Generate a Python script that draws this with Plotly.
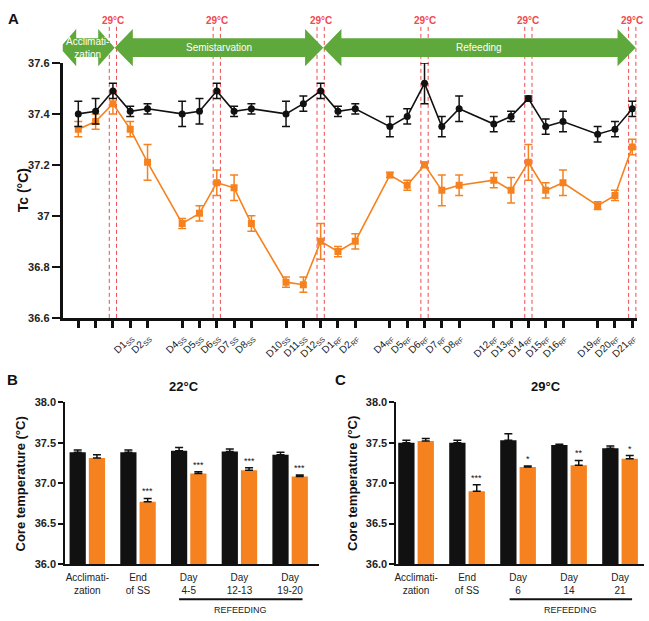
import plotly.graph_objects as go

# ---------------- Panel A data ----------------
day_pos = [0, 1, 2, 3, 4, 6, 7, 8, 9, 10, 12, 13, 14, 15, 16, 18, 19, 20, 21, 22,
           24, 25, 26, 27, 28, 30, 31, 32]
day_labels = ["", "", "",
              "D1<sub>SS</sub>", "D2<sub>SS</sub>", "D4<sub>SS</sub>", "D5<sub>SS</sub>",
              "D6<sub>SS</sub>", "D7<sub>SS</sub>", "D8<sub>SS</sub>", "D10<sub>SS</sub>",
              "D11<sub>SS</sub>", "D12<sub>SS</sub>", "D1<sub>RF</sub>", "D2<sub>RF</sub>",
              "D4<sub>RF</sub>", "D5<sub>RF</sub>", "D6<sub>RF</sub>", "D7<sub>RF</sub>",
              "D8<sub>RF</sub>", "D12<sub>RF</sub>", "D13<sub>RF</sub>", "D14<sub>RF</sub>",
              "D15<sub>RF</sub>", "D16<sub>RF</sub>", "D19<sub>RF</sub>", "D20<sub>RF</sub>",
              "D21<sub>RF</sub>"]
ctrl_tc = [37.40, 37.41, 37.49, 37.41, 37.42, 37.40, 37.41, 37.49, 37.41, 37.42,
           37.40, 37.44, 37.49, 37.41, 37.42, 37.35, 37.39, 37.52, 37.35, 37.42,
           37.36, 37.39, 37.46, 37.35, 37.37, 37.32, 37.34, 37.42]
ctrl_err = [0.05, 0.05, 0.03, 0.02, 0.02, 0.05, 0.05, 0.03, 0.02, 0.02,
            0.05, 0.03, 0.03, 0.02, 0.02, 0.04, 0.03, 0.08, 0.04, 0.05,
            0.03, 0.02, 0.01, 0.03, 0.04, 0.03, 0.03, 0.03]
ss_tc = [37.34, 37.37, 37.44, 37.34, 37.21, 36.97, 37.01, 37.13, 37.11, 36.97,
         36.74, 36.73, 36.90, 36.86, 36.90, 37.16, 37.12, 37.20, 37.10, 37.12,
         37.14, 37.10, 37.21, 37.10, 37.13, 37.04, 37.08, 37.27]
ss_err = [0.03, 0.03, 0.04, 0.03, 0.07, 0.02, 0.03, 0.05, 0.05, 0.03,
          0.02, 0.03, 0.07, 0.02, 0.03, 0.01, 0.02, 0.01, 0.06, 0.04,
          0.03, 0.05, 0.07, 0.03, 0.05, 0.015, 0.02, 0.03]
warm_days = [2, 8, 14, 20, 26, 32]
a_yticks = [36.6, 36.8, 37.0, 37.2, 37.4, 37.6]
a_yticktext = ["36.6", "36.8", "37", "37.2", "37.4", "37.6"]
phases = [("Acclimati-<br>zation", -1.07, 2.1, 0.95),
          ("Semistarvation", 2.1, 14.15, 1.05),
          ("Refeeding", 14.15, 32.2, 1.05)]

# ---------------- Panel B / C data ----------------
groups_b = ["Acclimati-<br>zation", "End<br>of SS", "Day<br>4-5", "Day<br>12-13", "Day<br>19-20"]
b_ctrl = [37.38, 37.38, 37.40, 37.39, 37.35]
b_ctrl_err = [0.03, 0.03, 0.04, 0.03, 0.03]
b_ss = [37.31, 36.77, 37.12, 37.16, 37.08]
b_ss_err = [0.04, 0.04, 0.02, 0.03, 0.02]
b_stars = ["", "***", "***", "***", "***"]

groups_c = ["Acclimati-<br>zation", "End<br>of SS", "Day<br>6", "Day<br>14", "Day<br>21"]
c_ctrl = [37.50, 37.50, 37.53, 37.47, 37.43]
c_ctrl_err = [0.03, 0.03, 0.08, 0.01, 0.03]
c_ss = [37.52, 36.90, 37.20, 37.22, 37.30]
c_ss_err = [0.03, 0.08, 0.01, 0.06, 0.04]
c_stars = ["", "***", "*", "**", "*"]
bar_yticks = [36.0, 36.5, 37.0, 37.5, 38.0]

BLACK = "#111111"
ORANGE = "#f5821f"
GREEN = "#5ea83c"
RED = "#ef4a4f"
FONT = "Liberation Sans, Arial, sans-serif"

fig = go.Figure()

# Panel A traces
fig.add_trace(go.Scatter(
    x=day_pos, y=ss_tc, mode="lines+markers", xaxis="x", yaxis="y",
    line=dict(color=ORANGE, width=1.6),
    marker=dict(symbol="square", size=7, color=ORANGE),
    error_y=dict(type="data", array=ss_err, color=ORANGE, thickness=1.5, width=4),
    showlegend=False))
fig.add_trace(go.Scatter(
    x=day_pos, y=ctrl_tc, mode="lines+markers", xaxis="x", yaxis="y",
    line=dict(color=BLACK, width=1.6),
    marker=dict(symbol="circle", size=7, color=BLACK),
    error_y=dict(type="data", array=ctrl_err, color=BLACK, thickness=1.5, width=4),
    showlegend=False))

# Panel B & C bars
def add_bars(xa, ya, ctrl, cerr, ss, serr):
    n = len(ctrl)
    fig.add_trace(go.Bar(
        x=[i - 0.19 for i in range(n)], y=ctrl, width=0.32, base=0,
        xaxis=xa, yaxis=ya, marker=dict(color=BLACK, line=dict(width=0)),
        error_y=dict(type="data", symmetric=False, array=cerr, arrayminus=[0] * n,
                     color=BLACK, thickness=1.5, width=4),
        showlegend=False))
    fig.add_trace(go.Bar(
        x=[i + 0.19 for i in range(n)], y=ss, width=0.32, base=0,
        xaxis=xa, yaxis=ya, marker=dict(color=ORANGE, line=dict(width=0)),
        error_y=dict(type="data", symmetric=False, array=serr, arrayminus=[0] * n,
                     color=BLACK, thickness=1.5, width=4),
        showlegend=False))

add_bars("x2", "y2", b_ctrl, b_ctrl_err, b_ss, b_ss_err)
add_bars("x3", "y3", c_ctrl, c_ctrl_err, c_ss, c_ss_err)

shapes = []
annotations = []

def ann(**kw):
    base = dict(showarrow=False, xanchor="center", yanchor="middle")
    base.update(kw)
    annotations.append(base)

# dashed 29°C lines + labels
A_BOTTOM = 1 - 318 / 621
for d in warm_days:
    for off in (-0.21, 0.21):
        shapes.append(dict(type="line", xref="x", yref="paper", x0=d + off, x1=d + off,
                           y0=A_BOTTOM, y1=1 - 21 / 621,
                           line=dict(color=RED, width=1, dash="4px,3px"), layer="below"))
    ann(x=d, y=1 - 15 / 621, xref="x", yref="paper", text="<b>29°C</b>",
        font=dict(color=RED, size=10, family=FONT))

# phase arrows
yc = 1 - 42.5 / 621
hb = 9.5 / 621
hh = 19 / 621
for label, x0, x1, hl in phases:
    path = (f"M {x0} {yc} L {x0 + hl} {yc + hh} L {x0 + hl} {yc + hb} L {x1 - hl} {yc + hb} "
            f"L {x1 - hl} {yc + hh} L {x1} {yc} L {x1 - hl} {yc - hh} L {x1 - hl} {yc - hb} "
            f"L {x0 + hl} {yc - hb} L {x0 + hl} {yc - hh} Z")
    shapes.append(dict(type="path", xref="x", yref="paper", path=path,
                       fillcolor=GREEN, line=dict(width=0), layer="above"))
    ann(x=(x0 + x1) / 2, y=yc, xref="x", yref="paper", text=label,
        font=dict(color="white", size=10, family=FONT))

# stars
for xa, ya, ss, serr, stars in (("x2", "y2", b_ss, b_ss_err, b_stars),
                                ("x3", "y3", c_ss, c_ss_err, c_stars)):
    for i, s in enumerate(stars):
        if s:
            ann(x=i + 0.19, y=ss[i] + serr[i], xref=xa, yref=ya, text=s, yanchor="bottom",
                font=dict(size=9, color=BLACK, family=FONT))

# refeeding bars
for xa, x0, x1 in (("x2", 1.81, 4.245), ("x3", 1.835, 4.236)):
    shapes.append(dict(type="line", xref=xa, yref="paper", x0=x0, x1=x1,
                       y0=1 - 605 / 621, y1=1 - 605 / 621, line=dict(color=BLACK, width=2)))
    ann(x=(x0 + x1) / 2, y=1 - 616 / 621, xref=xa, yref="paper", text="REFEEDING",
        font=dict(size=9, color="#222222", family=FONT))

# titles
ann(x=1.91, y=1 - 388 / 621, xref="x2", yref="paper", text="<b>22°C</b>",
    font=dict(size=13, color=BLACK, family=FONT))
ann(x=2.55, y=1 - 388 / 621, xref="x3", yref="paper", text="<b>29°C</b>",
    font=dict(size=13, color=BLACK, family=FONT))
# panel letters
for letter, px, py in (("A", 12, 13), ("B", 11, 381), ("C", 340, 381)):
    ann(x=px / 649, y=1 - py / 621, xref="paper", yref="paper", text=f"<b>{letter}</b>",
        font=dict(size=15, color=BLACK, family=FONT))
# axis titles
ann(x=21 / 649, y=1 - 188 / 621, xref="paper", yref="paper", text="<b>Tc (°C)</b>",
    textangle=-90, font=dict(size=14, color=BLACK, family=FONT))
ann(x=19 / 649, y=1 - 487 / 621, xref="paper", yref="paper",
    text="<b>Core temperature (°C)</b>", textangle=-90,
    font=dict(size=13, color=BLACK, family=FONT))
ann(x=352 / 649, y=1 - 487 / 621, xref="paper", yref="paper",
    text="<b>Core temperature (°C)</b>", textangle=-90,
    font=dict(size=13, color=BLACK, family=FONT))

bar_y = dict(range=[36, 38], domain=[1 - 569 / 621, 1 - 404 / 621], tickvals=bar_yticks,
             ticktext=[f"<b>{v:.1f}</b>" for v in bar_yticks],
             ticks="outside", ticklen=5, tickwidth=1.5, tickcolor=BLACK,
             showline=True, linecolor=BLACK, linewidth=1.5, showgrid=False, zeroline=False,
             tickfont=dict(size=11, color="#222222", family=FONT))
bar_x = dict(ticks="", showline=True, linecolor=BLACK, linewidth=1.5, showgrid=False,
             zeroline=False, tickvals=list(range(5)), ticklabelstandoff=3,
             tickfont=dict(size=10, color="#222222", family=FONT))

fig.update_layout(
    width=649, height=621, margin=dict(l=0, r=0, t=0, b=0),
    paper_bgcolor="white", plot_bgcolor="white", barmode="overlay",
    font=dict(family=FONT, color=BLACK),
    xaxis=dict(range=[-0.9, 32.3], domain=[61 / 649, 638.4 / 649], tickvals=day_pos,
               ticktext=day_labels, tickangle=-45, ticks="outside", ticklen=7, tickwidth=2.5,
               tickcolor=BLACK, showline=True, linecolor=BLACK, linewidth=3, showgrid=False,
               zeroline=False, anchor="y", tickfont=dict(size=10, color="#1a1a1a", family=FONT)),
    yaxis=dict(range=[36.6, 37.6], domain=[A_BOTTOM, 1 - 58 / 621], tickvals=a_yticks,
               ticktext=[f"<b>{t}</b>" for t in a_yticktext], ticks="outside", ticklen=8,
               tickwidth=2, tickcolor=BLACK, showline=True, linecolor=BLACK, linewidth=3,
               showgrid=False, zeroline=False, anchor="x",
               tickfont=dict(size=11, color="#222222", family=FONT)),
    xaxis2=dict(range=[-0.44, 4.56], domain=[63.3 / 649, 318 / 649], ticktext=groups_b,
                anchor="y2", **bar_x),
    yaxis2=dict(anchor="x2", **bar_y),
    xaxis3=dict(range=[-0.39, 4.47], domain=[396 / 649, 645 / 649], ticktext=groups_c,
                anchor="y3", **bar_x),
    yaxis3=dict(anchor="x3", **bar_y),
    shapes=shapes, annotations=annotations,
)

fig.write_html("out.html")
